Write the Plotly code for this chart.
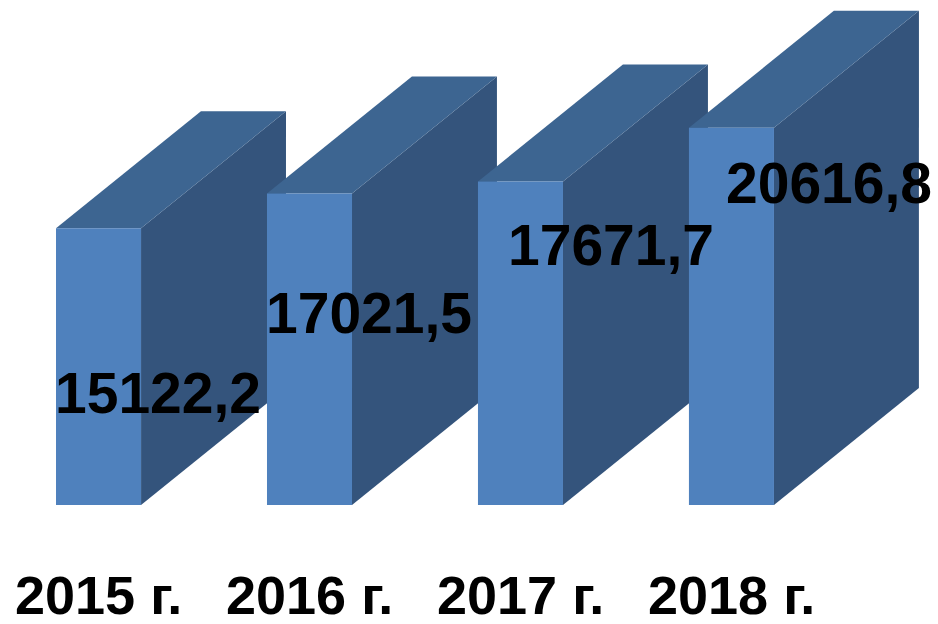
import plotly.graph_objects as go

categories = ["2015 г.", "2016 г.", "2017 г.", "2018 г."]
values = [15122.2, 17021.5, 17671.7, 20616.8]
value_labels = ["15122,2", "17021,5", "17671,7", "20616,8"]

# geometry (in axis units)
BAR_W = 0.403          # front face width (category units)
DEPTH_X = 0.687        # 3D depth offset in x (category units)
DEPTH_Y = 6393         # 3D depth offset in y (value units)
FRONT = "#4F81BD"
SIDE = "#34547C"
TOP = "#3D6591"

# label offsets relative to bar front centre
lab_dx = [0.28, 0.28, 0.43, 0.46]
lab_y = [6120, 10480, 14210, 17590]

fig = go.Figure()

def poly(xs, ys, color):
    fig.add_trace(go.Scatter(x=xs + [xs[0]], y=ys + [ys[0]], fill="toself",
                             fillcolor=color, mode="lines",
                             line=dict(width=0, color=color),
                             hoverinfo="skip", showlegend=False))

for i, v in enumerate(values):
    l, r = i - BAR_W / 2, i + BAR_W / 2
    poly([r, r, r + DEPTH_X, r + DEPTH_X], [0, v, v + DEPTH_Y, DEPTH_Y], SIDE)
    poly([l, r, r + DEPTH_X, l + DEPTH_X], [v, v, v + DEPTH_Y, v + DEPTH_Y], TOP)
    poly([l, r, r, l], [0, 0, v, v], FRONT)

for i, v in enumerate(values):
    fig.add_annotation(x=i + lab_dx[i], y=lab_y[i], text="<b>" + value_labels[i] + "</b>",
                       showarrow=False, xanchor="center", yanchor="middle",
                       font=dict(family="Liberation Sans, Arial", size=57, color="black"))

for i, c in enumerate(categories):
    fig.add_annotation(x=i, y=-4920, text="<b>" + c + "</b>", showarrow=False,
                       xanchor="center", yanchor="middle",
                       font=dict(family="Liberation Sans, Arial", size=54, color="black"))

fig.update_layout(
    width=938, height=624,
    margin=dict(l=0, r=0, t=0, b=0),
    paper_bgcolor="white", plot_bgcolor="white",
    xaxis=dict(range=[-0.467, 3.979], visible=False, fixedrange=True),
    yaxis=dict(range=[-6503, 27596], visible=False, fixedrange=True),
)
fig.write_html("out.html", config={"displayModeBar": False},
               post_script="document.body.style.margin='0';document.body.style.overflow='hidden';")
